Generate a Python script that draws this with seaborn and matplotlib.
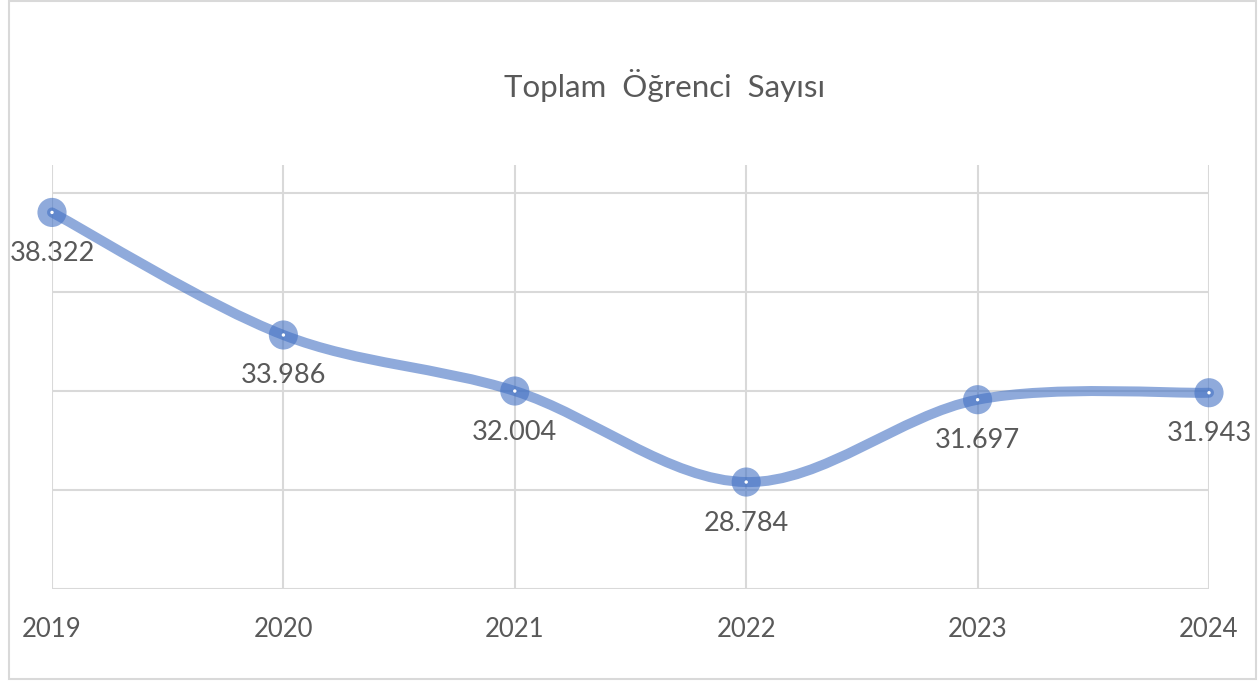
import numpy as np
import pandas as pd
import matplotlib
matplotlib.use("Agg")
import matplotlib.pyplot as plt
from matplotlib.path import Path
from matplotlib.patches import PathPatch, Rectangle
import seaborn as sns

# ----------------- Data -----------------
years = ["2019", "2020", "2021", "2022", "2023", "2024"]
students = [38.322, 33.986, 32.004, 28.784, 31.697, 31.943]
labels = ["38.322", "33.986", "32.004", "28.784", "31.697", "31.943"]
y_gridlines = [25, 28.5, 32, 35.5, 39]

df = pd.DataFrame({"pos": range(len(years)), "year": years, "students": students})

# ----------------- Style -----------------
sns.set_theme(style="white")
plt.rcParams["font.family"] = ["Lato", "DejaVu Sans"]
text_color = "#595959"
grid_color = "#D9D9D9"
line_color = "#4472C4"

fig = plt.figure(figsize=(12.6, 6.81), dpi=100)
ax = fig.add_axes([52 / 1260, 92 / 681, 1157 / 1260, 424 / 681])

# ----------------- Smoothed line (Excel style bezier) -----------------
pts = df[["pos", "students"]].to_numpy(dtype=float)
n = len(pts)
verts = [tuple(pts[0])]
codes = [Path.MOVETO]
for i in range(n - 1):
    p0 = pts[max(i - 1, 0)]
    p1 = pts[i]
    p2 = pts[i + 1]
    p3 = pts[min(i + 2, n - 1)]
    c1 = p1 + (p2 - p0) / 6
    c2 = p2 - (p3 - p1) / 6
    verts += [tuple(c1), tuple(c2), tuple(p2)]
    codes += [Path.CURVE4] * 3
curve = PathPatch(Path(verts, codes), facecolor="none", edgecolor=line_color,
                  lw=7.2, alpha=0.6, capstyle="round", joinstyle="round",
                  clip_on=False, zorder=3)
ax.add_patch(curve)

# ----------------- Markers -----------------
sns.scatterplot(data=df, x="pos", y="students", ax=ax, s=440, color=line_color,
                alpha=0.6, edgecolor="none", clip_on=False, zorder=4, legend=False)
sns.scatterplot(data=df, x="pos", y="students", ax=ax, s=6, color="white",
                edgecolor="none", clip_on=False, zorder=5, legend=False)

# ----------------- Data labels -----------------
for _, row in df.iterrows():
    ax.annotate(labels[row["pos"]], (row["pos"], row["students"]),
                xytext=(0, -41), textcoords="offset pixels", ha="center",
                va="center", fontsize=19.5, color=text_color, zorder=6)

# ----------------- Axes -----------------
ax.set_xlim(0, len(years) - 1)
ax.set_ylim(25, 40)
ax.set_xticks(df["pos"])
ax.set_xticklabels(years)
ax.set_yticks(y_gridlines)
ax.set_yticklabels([])
ax.grid(True, color=grid_color, linewidth=1.5)
ax.tick_params(axis="x", length=0, pad=20, labelsize=18.5, labelcolor=text_color)
ax.tick_params(axis="y", length=0)
ax.set_xlabel("")
ax.set_ylabel("")
for spine in ax.spines.values():
    spine.set_visible(False)
ax.set_facecolor("none")

# ----------------- Title and border -----------------
fig.text(665 / 1260, 1 - 85 / 681, "Toplam  Öğrenci  Sayısı", ha="center",
         va="center", fontsize=22.5, color=text_color)
fig.patches.append(Rectangle((8.5 / 1260, 2 / 681), 1247 / 1260, 678 / 681,
                             transform=fig.transFigure, fill=False,
                             edgecolor=grid_color, linewidth=1.5))

fig.savefig("out.png", dpi=100)
